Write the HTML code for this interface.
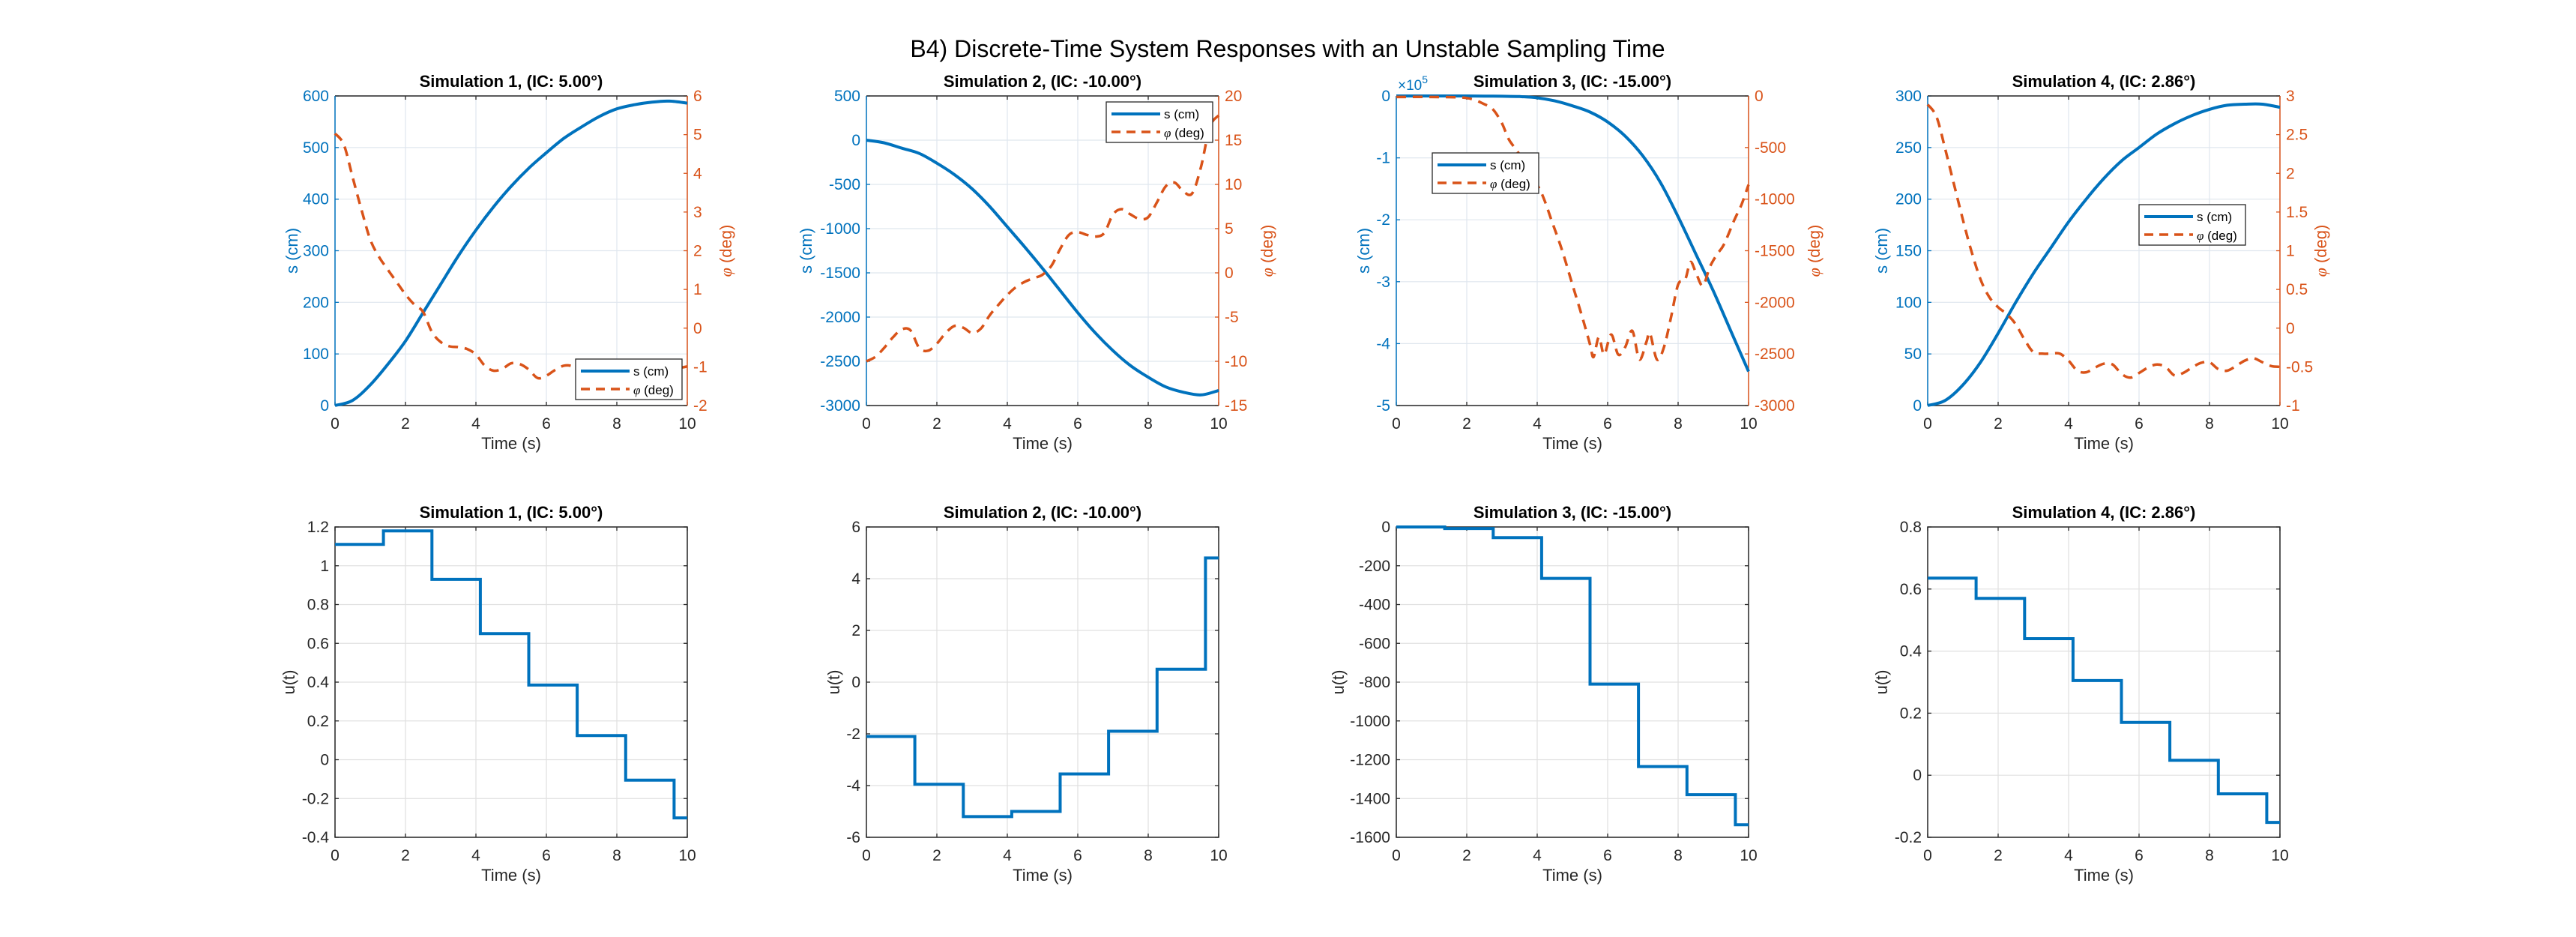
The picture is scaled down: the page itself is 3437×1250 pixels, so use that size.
<!DOCTYPE html>
<html><head><meta charset="utf-8">
<style>
html,body{margin:0;padding:0;background:#fff;}
svg{display:block;font-family:"Liberation Sans",Arial,sans-serif;}
</style></head>
<body>
<svg id="fig" width="3437" height="1250" viewBox="0 0 3437 1250" xmlns="http://www.w3.org/2000/svg">
<rect width="3437" height="1250" fill="#fff"/>
<text x="1718" y="76" font-size="32" text-anchor="middle" fill="#000">B4) Discrete-Time System Responses with an Unstable Sampling Time</text>
</svg>
<script>
// ---- data ----
const timeGrid = [0,0.5,1,1.5,2,2.5,3,3.5,4,4.5,5,5.5,6,6.5,7,7.5,8,8.5,9,9.5,10];
const phiTime = [0,0.25,0.5,0.75,1,1.25,1.5,1.75,2,2.25,2.5,2.75,3,3.25,3.5,3.75,4,4.25,4.5,4.75,5,5.25,5.5,5.75,6,6.25,6.5,6.75,7,7.25,7.5,7.75,8,8.25,8.5,8.75,9,9.25,9.5,9.75,10];
const s1 = [0,10,40,80,125,180,235,290,340,385,425,460,490,518,540,560,575,583,588,590,586];
const s2 = [0,-30,-90,-150,-260,-390,-550,-750,-980,-1210,-1450,-1700,-1950,-2180,-2380,-2550,-2680,-2790,-2850,-2880,-2830];
const s3 = [0,0,0,0,0,-0.002,-0.005,-0.01,-0.03,-0.08,-0.16,-0.26,-0.42,-0.65,-0.97,-1.4,-1.95,-2.55,-3.15,-3.8,-4.45];
const s4 = [0,5,20,42,70,100,128,153,178,200,220,237,250,263,273,281,287,291,292,292,289];
const phi1 = [5.03,4.74,3.9,3.06,2.29,1.84,1.51,1.19,0.87,0.61,0.42,-0.1,-0.36,-0.47,-0.49,-0.54,-0.68,-0.97,-1.1,-1.05,-0.91,-0.93,-1.07,-1.29,-1.23,-1.08,-0.97,-0.99,-1.15,-1.25,-1.2,-1.05,-0.95,-1.0,-1.15,-1.2,-1.1,-0.98,-0.95,-1.02,-0.99];
const phi2 = [-10,-9.5,-8.5,-7.3,-6.4,-6.5,-8.5,-8.8,-8,-6.8,-6.0,-6.2,-6.8,-6.3,-4.8,-3.6,-2.5,-1.6,-1.0,-0.6,-0.2,0.8,2.7,4.3,4.6,4.3,4.1,4.5,6.6,7.2,6.6,6.1,6.3,8.0,9.8,10.2,9.2,9.0,12.0,16.5,17.8];
const phi3Time = [0,1,2,2.5,2.75,3.0,3.2,3.5,4.0,4.2,4.4,4.7,5.0,5.3,5.5,5.6,5.75,5.9,6.1,6.3,6.5,6.7,6.9,7.1,7.2,7.4,7.6,7.8,8.0,8.2,8.35,8.5,8.7,8.9,9.1,9.3,9.6,9.8,10];
const phi3 = [-10,-10,-20,-80,-133,-266,-424,-569,-860,-1005,-1199,-1489,-1828,-2167,-2409,-2530,-2336,-2506,-2312,-2506,-2433,-2276,-2554,-2385,-2300,-2554,-2433,-2143,-1828,-1780,-1610,-1707,-1840,-1658,-1537,-1440,-1199,-1053,-860];
const phi4 = [2.89,2.73,2.31,1.85,1.40,0.98,0.63,0.40,0.27,0.18,0.05,-0.15,-0.31,-0.33,-0.33,-0.33,-0.42,-0.55,-0.57,-0.51,-0.46,-0.47,-0.59,-0.64,-0.58,-0.51,-0.47,-0.50,-0.61,-0.58,-0.51,-0.45,-0.44,-0.53,-0.55,-0.49,-0.42,-0.39,-0.44,-0.49,-0.50];
const stepTime = [0,1.375,2.75,4.125,5.5,6.875,8.25,9.625];
const u1 = [1.11,1.18,0.93,0.65,0.385,0.125,-0.105,-0.30];
const u2 = [-2.1,-3.95,-5.2,-5.0,-3.55,-1.9,0.5,4.8];
const u3 = [0,-8,-55,-265,-810,-1235,-1380,-1535];
const u4 = [0.635,0.57,0.44,0.305,0.17,0.048,-0.06,-0.152];
const xTicks = [0,2,4,6,8,10];
const sTicks1 = [0,100,200,300,400,500,600];
const sTicks2 = [-3000,-2500,-2000,-1500,-1000,-500,0,500];
const sTicks3 = [-5,-4,-3,-2,-1,0];
const sTicks4 = [0,50,100,150,200,250,300];
const pTicks1 = [-2,-1,0,1,2,3,4,5,6];
const pTicks2 = [-15,-10,-5,0,5,10,15,20];
const pTicks3 = [-3000,-2500,-2000,-1500,-1000,-500,0];
const pTicks4 = [-1,-0.5,0,0.5,1,1.5,2,2.5,3];
const uTicks1 = [-0.4,-0.2,0,0.2,0.4,0.6,0.8,1,1.2];
const uTicks2 = [-6,-4,-2,0,2,4,6];
const uTicks3 = [-1600,-1400,-1200,-1000,-800,-600,-400,-200,0];
const uTicks4 = [-0.2,0,0.2,0.4,0.6,0.8];
const titles = ["Simulation 1, (IC: 5.00°)","Simulation 2, (IC: -10.00°)","Simulation 3, (IC: -15.00°)","Simulation 4, (IC: 2.86°)"];

const NS="http://www.w3.org/2000/svg";
const fig=document.getElementById('fig');
const BLUE="#0072BD", ORANGE="#D95319", DARK="#262626";
function mk(tag,attrs,parent,text){const e=document.createElementNS(NS,tag);for(const k in attrs)e.setAttribute(k,attrs[k]);if(text!==undefined)e.textContent=text;(parent||fig).appendChild(e);return e;}
function fmt(v){return String(Math.round(v*1000)/1000);}
const colsX=[447,1156,1863,2572], W=470;
const sLabelOff=[50,73,36,54], pLabelOff=[59,72,95,62], uLabelOff=[54,36,70,54];

function axesFrame(g,L,T,H,title){
  const t=mk('text',{x:L+W/2,y:T-12,'font-size':22,'font-weight':'bold','text-anchor':'middle',fill:'#000'},g,title);
  
  
}
function xAxis(g,L,T,H,gridColor){
  const xs=v=>L+v/10*W;
  xTicks.forEach(v=>{
    const x=xs(v);
    const gl=mk('line',{x1:x,x2:x,y1:T,y2:T+H,stroke:gridColor,'stroke-width':1.2},g);
    
    
    mk('line',{x1:x,x2:x,y1:T+H,y2:T+H-5,stroke:DARK,'stroke-width':1.3},g);
    mk('line',{x1:x,x2:x,y1:T,y2:T+5,stroke:DARK,'stroke-width':1.3},g);
    const tl=mk('text',{x:x,y:T+H+31,'font-size':21,'text-anchor':'middle',fill:DARK},g,fmt(v));
    
    
  });
  const xl=mk('text',{x:L+W/2,y:T+H+58,'font-size':22,'text-anchor':'middle',fill:DARK},g,'Time (s)');
  
  
  return xs;
}
function yAxis(g,L,T,H,ticks,color,side,gridColor){
  const lo=ticks[0],hi=ticks[ticks.length-1];
  const ys=v=>T+H-(v-lo)/(hi-lo)*H;
  ticks.forEach(v=>{
    const y=ys(v);
    if(gridColor){
      const gl=mk('line',{x1:L,x2:L+W,y1:y,y2:y,stroke:gridColor,'stroke-width':1.2},g);
      
      
    }
    if(side==='left'){
      mk('line',{x1:L,x2:L+5,y1:y,y2:y,stroke:color,'stroke-width':1.3},g);
      const tl=mk('text',{x:L-8,y:y+7,'font-size':21,'text-anchor':'end',fill:color},g,fmt(v));
      
      
    } else {
      mk('line',{x1:L+W,x2:L+W-5,y1:y,y2:y,stroke:color,'stroke-width':1.3},g);
      const tl=mk('text',{x:L+W+8,y:y+7,'font-size':21,'text-anchor':'start',fill:color},g,fmt(v));
      
      
    }
  });
  return ys;
}
function smoothD(xsArr,ysArr,xs,ys){
  const p=xsArr.map((t,i)=>[xs(t),ys(ysArr[i])]);
  let d='M'+p[0][0].toFixed(1)+','+p[0][1].toFixed(1);
  for(let i=0;i<p.length-1;i++){
    const p0=p[Math.max(0,i-1)],p1=p[i],p2=p[i+1],p3=p[Math.min(p.length-1,i+2)];
    const c1=[p1[0]+(p2[0]-p0[0])/6,p1[1]+(p2[1]-p0[1])/6];
    const c2=[p2[0]-(p3[0]-p1[0])/6,p2[1]-(p3[1]-p1[1])/6];
    d+=` C${c1[0].toFixed(1)},${c1[1].toFixed(1)} ${c2[0].toFixed(1)},${c2[1].toFixed(1)} ${p2[0].toFixed(1)},${p2[1].toFixed(1)}`;
  }
  return d;
}

const sSeries=[s1,s2,s3,s4], sTicks=[sTicks1,sTicks2,sTicks3,sTicks4];
const pSeries=[phi1,phi2,phi3,phi4], pTicks=[pTicks1,pTicks2,pTicks3,pTicks4];
const pTimes=[phiTime,phiTime,phi3Time,phiTime];
const legendPos=[[768,479],[1476,136],[1911,204],[2854,273]];
const uSeries=[u1,u2,u3,u4], uTicks=[uTicks1,uTicks2,uTicks3,uTicks4];

for(let i=0;i<4;i++){
  const L=colsX[i],T=128,H=413;
  const g=mk('g',{});
  
  
  mk('rect',{x:L,y:T,width:W,height:H,fill:'#fff'},g);
  const xs=xAxis(g,L,T,H,'#dfe6ee');
  const ysL=yAxis(g,L,T,H,sTicks[i],BLUE,'left','#dfe6ee');
  const ysR=yAxis(g,L,T,H,pTicks[i],ORANGE,'right',null);
  mk('line',{x1:L,x2:L+W,y1:T,y2:T,stroke:DARK,'stroke-width':1.5},g);
  mk('line',{x1:L,x2:L+W,y1:T+H,y2:T+H,stroke:DARK,'stroke-width':1.5},g);
  mk('line',{x1:L,x2:L,y1:T,y2:T+H,stroke:BLUE,'stroke-width':1.5},g);
  mk('line',{x1:L+W,x2:L+W,y1:T,y2:T+H,stroke:ORANGE,'stroke-width':1.5},g);
  const sp=mk('path',{d:smoothD(timeGrid,sSeries[i],xs,ysL),fill:'none',stroke:BLUE,'stroke-width':4,'stroke-linejoin':'round'},g);
  
  
  const pp=mk('path',{d:smoothD(pTimes[i],pSeries[i],xs,ysR),fill:'none',stroke:ORANGE,'stroke-width':3.5,'stroke-dasharray':'13,9'},g);
  
  
  axesFrame(g,L,T,H,titles[i]);
  const yl=mk('text',{transform:`translate(${L-sLabelOff[i]},${T+H/2}) rotate(-90)`,'font-size':22,'text-anchor':'middle',fill:BLUE},g,'s (cm)');
  
  
  const rl=mk('text',{transform:`translate(${L+W+pLabelOff[i]},${T+H/2}) rotate(-90)`,'font-size':22,'text-anchor':'middle',fill:ORANGE},g);
  
  
  mk('tspan',{'font-family':'"Liberation Serif",serif','font-style':'italic'},rl,'φ');
  mk('tspan',{},rl,' (deg)');
  if(i===2){
    const ex=mk('text',{x:L+2,y:T-8,'font-size':19,fill:BLUE},g,'×10');
    
    
    mk('tspan',{dy:-9,'font-size':14},ex,'5');
  }
  const [lx,ly]=legendPos[i];
  const lg=mk('g',{},g);
  
  
  mk('rect',{x:lx,y:ly,width:142,height:54,fill:'#fff',stroke:'#262626','stroke-width':1.3},lg);
  mk('line',{x1:lx+7,x2:lx+72,y1:ly+16,y2:ly+16,stroke:BLUE,'stroke-width':4},lg);
  mk('text',{x:lx+77,y:ly+22,'font-size':17,fill:'#000'},lg,'s (cm)');
  mk('line',{x1:lx+7,x2:lx+72,y1:ly+40,y2:ly+40,stroke:ORANGE,'stroke-width':3.5,'stroke-dasharray':'12,8'},lg);
  const lt=mk('text',{x:lx+77,y:ly+47,'font-size':17,fill:'#000'},lg);
  mk('tspan',{'font-family':'"Liberation Serif",serif','font-style':'italic'},lt,'φ');
  mk('tspan',{},lt,' (deg)');

  const T2=703,H2=414;
  const g2=mk('g',{});
  
  
  const xs2=xAxis(g2,L,T2,H2,'#e0e0e0');
  const ys2=yAxis(g2,L,T2,H2,uTicks[i],DARK,'left','#e0e0e0');
  uTicks[i].forEach(v=>mk('line',{x1:L+W,x2:L+W-5,y1:ys2(v),y2:ys2(v),stroke:DARK,'stroke-width':1.3},g2));
  mk('rect',{x:L,y:T2,width:W,height:H2,fill:'none',stroke:DARK,'stroke-width':1.5},g2);
  const u=uSeries[i];
  let d='';
  stepTime.forEach((t,k)=>{
    const x0=xs2(t), x1=xs2(k<stepTime.length-1?stepTime[k+1]:10), y=ys2(u[k]);
    d+=(k?'L':'M')+x0.toFixed(1)+','+y.toFixed(1)+' L'+x1.toFixed(1)+','+y.toFixed(1)+' ';
  });
  const up=mk('path',{d:d,fill:'none',stroke:BLUE,'stroke-width':4},g2);
  
  
  axesFrame(g2,L,T2,H2,titles[i]);
  const ul=mk('text',{transform:`translate(${L-uLabelOff[i]},${T2+H2/2}) rotate(-90)`,'font-size':22,'text-anchor':'middle',fill:DARK},g2,'u(t)');
  
  
}
</script>
</body></html>
